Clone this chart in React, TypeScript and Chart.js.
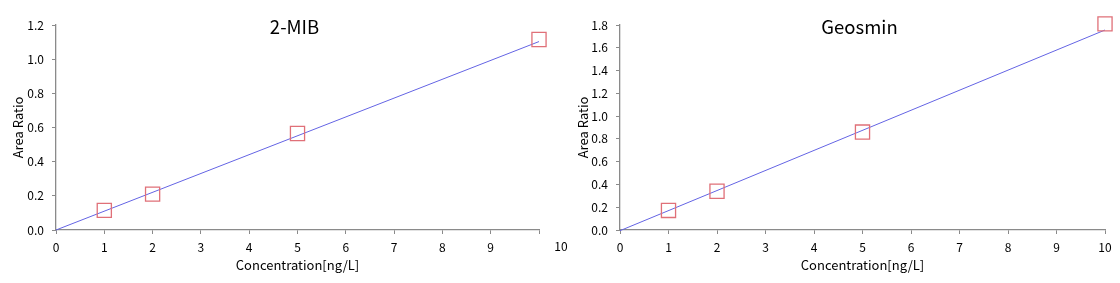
import React, { useEffect, useRef } from "react";
import { Chart, registerables } from "chart.js";

Chart.register(...registerables);

const concentrations = [1, 2, 5, 10];
const mibRatios = [0.115, 0.21, 0.565, 1.115];
const mibFitX = [0, 10];
const mibFitY = [0.0, 1.103];
const geoRatios = [0.172, 0.34, 0.86, 1.81];
const geoFitX = [0, 10];
const geoFitY = [-0.006, 1.756];
const xTicks = [0, 1, 2, 3, 4, 5, 6, 7, 8, 9, 10];
const mibYMax = 1.2;
const geoYMax = 1.8;

const FONT = "'Noto Sans CJK JP', 'Noto Sans', sans-serif";
const TEXT = "#000";
const AXIS = "#8a8a8a";
const MARK = "#e07078";
const LINE = "#6464e4";

interface Cfg {
  title: string;
  ys: number[];
  fitX: number[];
  fitY: number[];
  yMax: number;
  yWidth: number;
  yTitlePad: number;
  rightPad: number;
  shiftLast: boolean;
}

function makeChart(canvas: HTMLCanvasElement, c: Cfg) {
  const titlePlugin = {
    id: "inTitle",
    afterDraw(chart: any) {
      const { ctx, chartArea } = chart;
      ctx.save();
      ctx.font = `18.5px ${FONT}`;
      ctx.fillStyle = "#000";
      ctx.textAlign = "center";
      ctx.textBaseline = "middle";
      ctx.fillText(c.title, (chartArea.left + chartArea.right) / 2 - 3, 27);
      if (c.shiftLast) {
        const xs = chart.scales.x;
        ctx.font = `12px ${FONT}`;
        ctx.fillStyle = TEXT;
        ctx.textBaseline = "top";
        ctx.fillText("10", xs.getPixelForValue(10) + 22, xs.top + 4 + 6);
      }
      ctx.restore();
    },
  };
  return new Chart(canvas, {
    type: "scatter",
    data: {
      datasets: [
        {
          data: concentrations.map((x, i) => ({ x, y: c.ys[i] })),
          pointStyle: "rect",
          pointRadius: 10,
          pointHoverRadius: 10,
          borderColor: MARK,
          backgroundColor: "rgba(0,0,0,0)",
          pointBorderWidth: 1.3,
          showLine: false,
          clip: false,
        } as any,
        {
          data: c.fitX.map((x, i) => ({ x, y: c.fitY[i] })),
          showLine: true,
          pointRadius: 0,
          borderColor: LINE,
          borderWidth: 1,
          clip: false,
        } as any,
      ],
    },
    options: {
      responsive: false,
      animation: false,
      layout: { padding: { left: 0, right: c.rightPad, top: 25, bottom: 0 } },
      plugins: { legend: { display: false }, tooltip: { enabled: false }, title: { display: false } },
      scales: {
        x: {
          type: "linear",
          min: 0,
          max: 10,
          afterBuildTicks: (s: any) => {
            s.ticks = xTicks.map((v) => ({ value: v }));
          },
          afterFit: (s: any) => {
            s.height = 53;
          },
          grid: { drawOnChartArea: false, drawTicks: true, tickLength: 4, color: AXIS },
          border: { display: true, color: AXIS, width: 1.3 },
          ticks: {
            padding: 6,
            color: TEXT,
            font: { family: FONT, size: 12 },
            maxRotation: 0,
            callback: (v: any) => (c.shiftLast && v === 10 ? "" : String(v)),
          },
          title: {
            display: true,
            text: "Concentration[ng/L]",
            color: TEXT,
            font: { family: FONT, size: 13 },
            padding: { top: 0, bottom: 10 },
          },
        },
        y: {
          type: "linear",
          min: 0,
          max: c.yMax,
          ticks: {
            stepSize: 0.2,
            padding: 8,
            color: TEXT,
            font: { family: FONT, size: 12 },
            callback: (v: any) => Number(v).toFixed(1),
          },
          afterFit: (s: any) => {
            s.width = c.yWidth;
          },
          grid: { drawOnChartArea: false, drawTicks: true, tickLength: 4, color: AXIS },
          border: { display: true, color: AXIS, width: 1.3 },
          title: {
            display: true,
            text: "Area Ratio",
            color: TEXT,
            font: { family: FONT, size: 13 },
            padding: { top: c.yTitlePad, bottom: 0 },
          },
        },
      },
    },
    plugins: [titlePlugin],
  });
}

function Panel({ cfg, left, width }: { cfg: Cfg; left: number; width: number }) {
  const ref = useRef<HTMLCanvasElement>(null);
  useEffect(() => {
    const ch = makeChart(ref.current!, cfg);
    return () => ch.destroy();
  }, []);
  return (
    <canvas
      ref={ref}
      width={width}
      height={283}
      style={{ position: "absolute", left, top: 0, display: "block", width, height: 283 }}
    />
  );
}

export default function App() {
  return (
    <div
      style={{
        position: "absolute",
        left: 0,
        top: 0,
        width: 1120,
        height: 283,
        background: "#fff",
      }}
    >
      <Panel
        left={0}
        width={580}
        cfg={{
          title: "2-MIB",
          ys: mibRatios,
          fitX: mibFitX,
          fitY: mibFitY,
          yMax: mibYMax,
          yWidth: 56,
          yTitlePad: 10,
          rightPad: 41,
          shiftLast: true,
        }}
      />
      <Panel
        left={560}
        width={560}
        cfg={{
          title: "Geosmin",
          ys: geoRatios,
          fitX: geoFitX,
          fitY: geoFitY,
          yMax: geoYMax,
          yWidth: 60,
          yTitlePad: 15,
          rightPad: 15,
          shiftLast: false,
        }}
      />
    </div>
  );
}
